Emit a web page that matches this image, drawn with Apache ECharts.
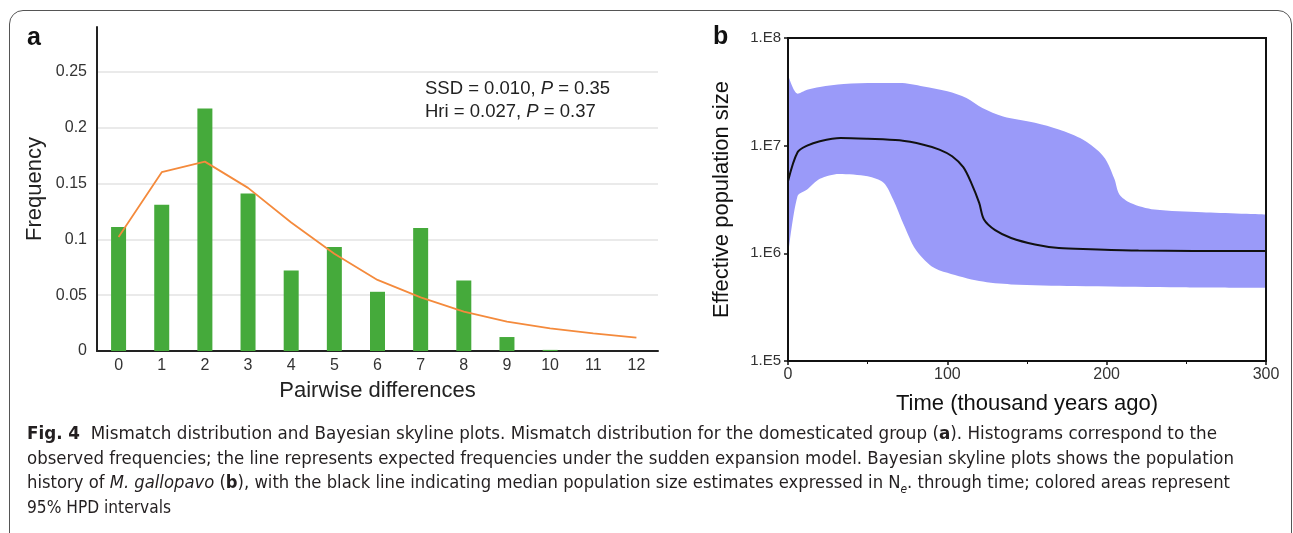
<!DOCTYPE html>
<html>
<head>
<meta charset="utf-8">
<script src="https://cdn.jsdelivr.net/npm/echarts@6/dist/echarts.min.js"></script>
<style>
  html, body { margin: 0; padding: 0; background: #fff; }
  #wrap { position: relative; width: 1293px; height: 533px; overflow: hidden; }
  #chart { position: absolute; left: 0; top: 0; width: 1293px; height: 533px; }
  #frame { position: absolute; left: 9px; top: 10px; width: 1281px; height: 620px;
           border: 1.5px solid #555; border-radius: 14px; pointer-events: none; }
  #caption { position: absolute; left: 27px; top: 421px; color: #231f20;
             font-family: 'Liberation Sans Narrow', 'DejaVu Sans Condensed', sans-serif; font-size: 18.5px; }
  #caption div { white-space: nowrap; height: 24.6px; line-height: 24.6px; transform-origin: 0 50%; }
</style>
</head>
<body>
<div id="wrap">
  <div id="chart"></div>
  <div id="frame"></div>
  <div id="caption">
    <div data-w="1190"><b>Fig. 4</b>&nbsp; Mismatch distribution and Bayesian skyline plots. Mismatch distribution for the domesticated group (<b>a</b>). Histograms correspond to the</div>
    <div data-w="1207">observed frequencies; the line represents expected frequencies under the sudden expansion model. Bayesian skyline plots shows the population</div>
    <div data-w="1203">history of <i>M. gallopavo</i> (<b>b</b>), with the black line indicating median population size estimates expressed in N<sub style="font-size:12px"><i>e</i></sub>. through time; colored areas represent</div>
    <div data-w="144">95% HPD intervals</div>
  </div>
</div>
<script>
// panel a: mismatch distribution
var diffCats = ['0', '1', '2', '3', '4', '5', '6', '7', '8', '9', '10', '11', '12'];
var observedFreq = [0.111, 0.131, 0.217, 0.141, 0.072, 0.093, 0.053, 0.110, 0.063, 0.0125, 0.001, 0, 0];
var expectedFreq = [0.102, 0.160, 0.1695, 0.146, 0.115, 0.087, 0.0636, 0.048, 0.0352, 0.0263, 0.0203, 0.0158, 0.0119];

// panel b: bayesian skyline (time in kya, Ne)
var medianTime = [0, 6, 12, 20, 33, 50, 70, 85, 95, 103, 110, 115, 120, 123, 130, 140, 155, 170, 190, 220, 300];
var medianNe = [4.68e6, 8.69e6, 1.0e7, 1.1e7, 1.18e7, 1.16e7, 1.12e7, 1.02e7, 9.2e6, 7.98e6, 6.31e6, 4.52e6, 2.94e6, 2.06e6, 1.64e6, 1.39e6, 1.21e6, 1.12e6, 1.09e6, 1.06e6, 1.05e6];
var upperTime = [0, 6, 12, 20, 35, 55, 70, 85, 100, 112, 122, 135, 155, 170, 185, 195, 200, 205, 208, 215, 230, 260, 300];
var upperNe = [4.57e7, 3.04e7, 3.31e7, 3.51e7, 3.74e7, 3.82e7, 3.82e7, 3.55e7, 3.2e7, 2.77e7, 2.24e7, 1.87e7, 1.63e7, 1.41e7, 1.14e7, 8.87e6, 7.18e6, 4.84e6, 3.52e6, 2.94e6, 2.55e6, 2.41e6, 2.30e6];
var lowerTime = [0, 6, 12, 20, 32, 50, 60, 66, 73, 80, 90, 100, 120, 140, 180, 240, 300];
var lowerNe = [9.4e5, 3.4e6, 3.92e6, 4.92e6, 5.47e6, 5.2e6, 4.52e6, 3.16e6, 1.79e6, 1.09e6, 7.6e5, 6.59e5, 5.52e5, 5.14e5, 4.97e5, 4.85e5, 4.79e5];
var logTicks = ['1.E5', '1.E6', '1.E7', '1.E8'];

function zip(xs, ys) {
  return xs.map(function (x, i) { return [x, ys[i]]; });
}

var font = "'Liberation Sans', Arimo, Arial, Helvetica, sans-serif";
var chart = echarts.init(document.getElementById('chart'), null, { renderer: 'canvas' });

chart.setOption({
  animation: false,
  textStyle: { fontFamily: font },
  grid: [
    { left: 97, top: 27, right: 635, bottom: 182 },
    { left: 788, top: 38, right: 27, bottom: 172, show: true, borderColor: '#111', borderWidth: 2, z: 5 }
  ],
  xAxis: [
    {
      gridIndex: 0, type: 'category', data: diffCats, boundaryGap: true,
      name: 'Pairwise differences', nameLocation: 'middle', nameGap: 29,
      nameTextStyle: { fontSize: 22, color: '#222', fontFamily: font },
      axisLine: { lineStyle: { color: '#222', width: 2 } },
      axisTick: { show: false },
      axisLabel: { fontSize: 16, color: '#333', margin: 7, fontFamily: font }
    },
    {
      gridIndex: 1, type: 'value', min: 0, max: 300, interval: 100, z: 5,
      name: 'Time (thousand years ago)', nameLocation: 'middle', nameGap: 32,
      nameTextStyle: { fontSize: 22, color: '#111', fontFamily: font },
      axisLine: { lineStyle: { color: '#111', width: 2 } },
      axisTick: { length: 4, lineStyle: { color: '#111', width: 1.5 } },
      minorTick: { show: true, splitNumber: 2, length: 3, lineStyle: { color: '#111' } },
      splitLine: { show: false },
      axisLabel: { fontSize: 16, color: '#333', margin: 6, fontFamily: font }
    }
  ],
  yAxis: [
    {
      gridIndex: 0, type: 'value', min: 0, max: 0.29, interval: 0.05,
      name: 'Frequency', nameLocation: 'middle', nameGap: 51,
      nameTextStyle: { fontSize: 22, color: '#222', fontFamily: font },
      axisLine: { show: true, lineStyle: { color: '#222', width: 2 } },
      axisTick: { show: false },
      axisLabel: { fontSize: 16, color: '#333', margin: 10, showMaxLabel: false, fontFamily: font },
      splitLine: { show: true, showMaxLine: false, lineStyle: { color: '#e3e3e3', width: 1.5 } }
    },
    {
      gridIndex: 1, type: 'log', logBase: 10, min: 1e5, max: 1e8, z: 5,
      name: 'Effective population size', nameLocation: 'middle', nameGap: 55,
      nameTextStyle: { fontSize: 22, color: '#111', fontFamily: font },
      axisLine: { show: true, lineStyle: { color: '#111', width: 2 } },
      axisTick: { show: true, length: 4, lineStyle: { color: '#111', width: 1.5 } },
      splitLine: { show: false },
      axisLabel: {
        fontSize: 15, color: '#333', margin: 7, fontFamily: font,
        formatter: function (v) { return logTicks[Math.round(Math.log10(v)) - 5]; }
      }
    }
  ],
  series: [
    {
      type: 'bar', xAxisIndex: 0, yAxisIndex: 0, data: observedFreq, barWidth: 15,
      itemStyle: { color: '#45aa3b' }
    },
    {
      type: 'line', xAxisIndex: 0, yAxisIndex: 0, data: expectedFreq, symbol: 'none',
      lineStyle: { color: '#f48a3c', width: 1.8 }, z: 3
    },
    {
      type: 'line', xAxisIndex: 1, yAxisIndex: 1, data: zip(upperTime, upperNe), symbol: 'none',
      smooth: 0.3, lineStyle: { width: 0 }, areaStyle: { color: '#9a9af9', opacity: 1, origin: 'start' }, z: 1
    },
    {
      type: 'line', xAxisIndex: 1, yAxisIndex: 1, data: zip(lowerTime, lowerNe), symbol: 'none',
      smooth: 0.3, lineStyle: { width: 0 }, areaStyle: { color: '#ffffff', opacity: 1, origin: 'start' }, z: 2
    },
    {
      type: 'line', xAxisIndex: 1, yAxisIndex: 1, data: zip(medianTime, medianNe), symbol: 'none',
      smooth: 0.3, lineStyle: { color: '#111', width: 2 }, z: 3
    }
  ],
  graphic: [
    { type: 'text', left: 27, top: 26, style: { text: 'a', font: "bold 25px " + font, fill: '#111' } },
    { type: 'text', left: 713, top: 25, style: { text: 'b', font: "bold 25px " + font, fill: '#111' } },
    {
      type: 'text', left: 425, top: 79,
      style: {
        text: '{r|SSD = 0.010, }{i|P}{r| = 0.35}\n{r|Hri = 0.027, }{i|P}{r| = 0.37}',
        rich: {
          r: { fontSize: 18.5, fontFamily: font, fill: '#222', lineHeight: 23 },
          i: { fontSize: 18.5, fontFamily: font, fontStyle: 'italic', fill: '#222', lineHeight: 23 }
        }
      }
    }
  ]
});

// fit caption lines to the measured widths of the printed figure
document.querySelectorAll('#caption div').forEach(function (d) {
  var span = document.createElement('span');
  span.innerHTML = d.innerHTML;
  d.innerHTML = '';
  d.appendChild(span);
  var actual = span.getBoundingClientRect().width;
  d.style.transform = 'scaleX(' + (parseFloat(d.getAttribute('data-w')) / actual) + ')';
});
</script>
</body>
</html>
